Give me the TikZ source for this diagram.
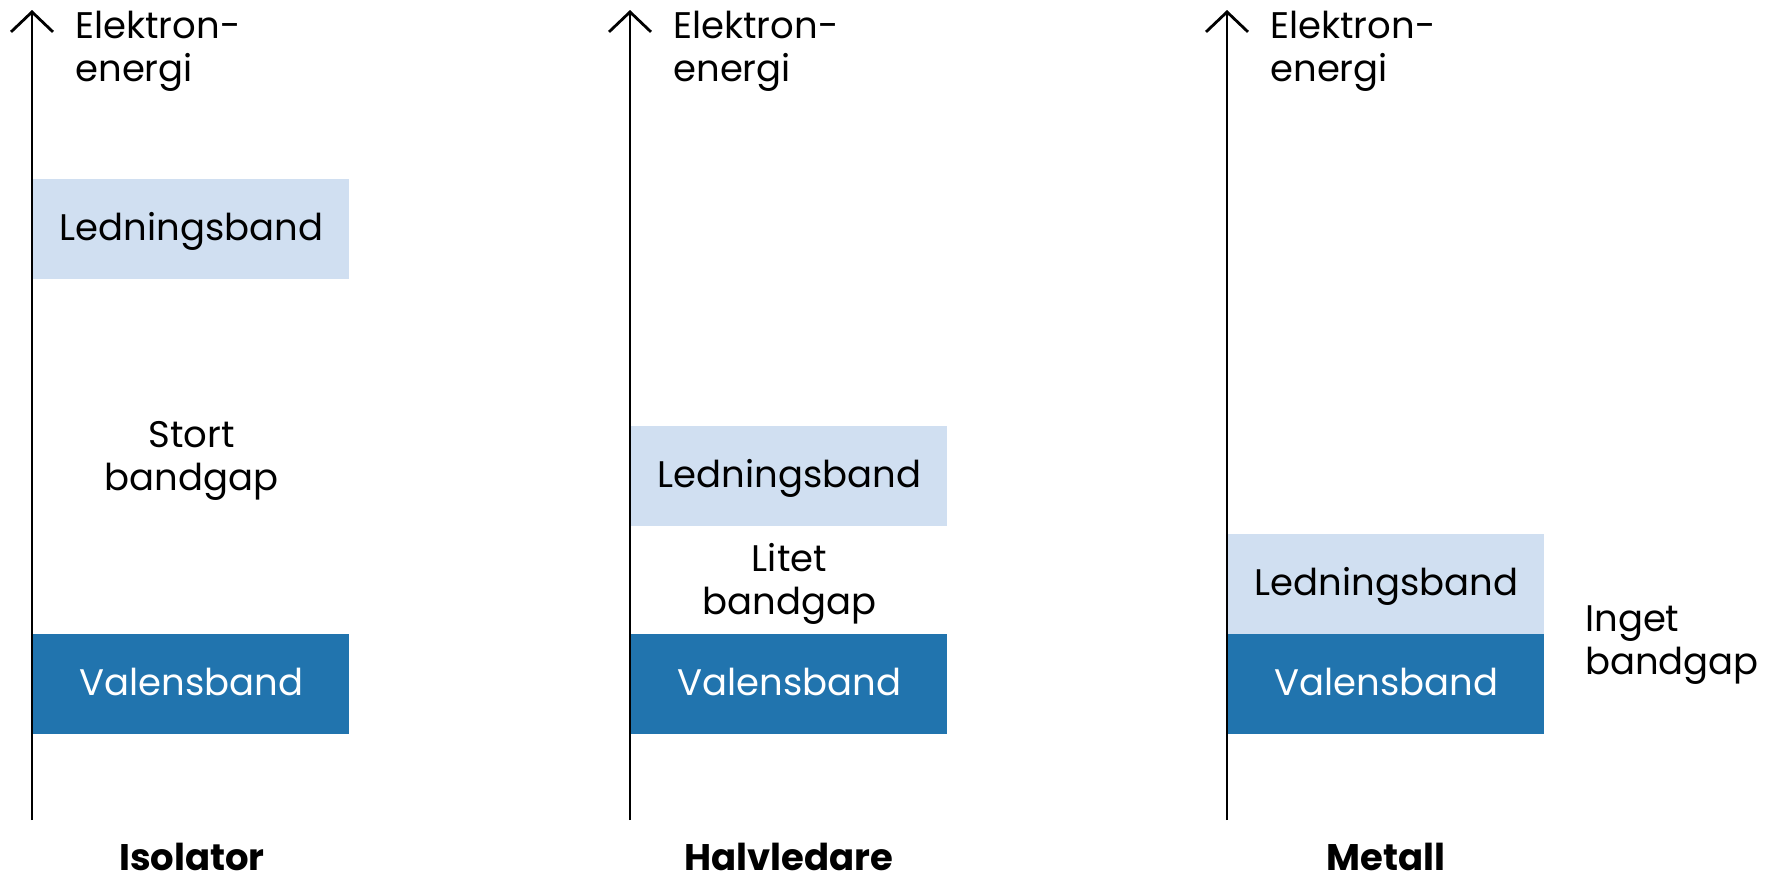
\documentclass[tikz,border=0pt]{standalone}
\usepackage{fontspec}
\setmainfont{Poppins}
\usetikzlibrary{arrows.meta,positioning,calc}
\definecolor{ledblue}{HTML}{D0DFF1}
\definecolor{valblue}{HTML}{2174AE}

\begin{document}
\begin{tikzpicture}[x=0.5pt, y=-0.5pt,
  axis/.style={-{Straight Barb[length=10pt, width=21pt]}, line width=1.4pt},
  band/.style={minimum width=158pt, minimum height=50pt, inner sep=0pt, anchor=north west, text height=15pt, text depth=4pt, font=\fontsize{18.5}{21.5}\selectfont},
  cband/.style={band, fill=ledblue, text=black},
  vband/.style={band, fill=valblue, text=white},
  lab/.style={font=\fontsize{18.5}{21.5}\selectfont, align=center, inner sep=0pt},
  ttl/.style={font=\fontsize{18.5}{21.5}\selectfont\bfseries, anchor=base, inner sep=0pt, text depth=0pt}
]
\useasboundingbox (0,0) rectangle (1777,879);
% bands
\node[cband] (isoled) at (33,179) {Ledningsband};
\node[vband] (isoval) at (33,634) {Valensband};
\node[cband] (hlled) at (631,426) {Ledningsband};
\node[vband] (hlval) at (631,634) {Valensband};
\node[cband] (metled) at (1228,534) {Ledningsband};
\node[vband] (metval) at (1228,634) {Valensband};
% energy axes
\coordinate (isobot) at (32,820);  \coordinate (isotop) at (32,10);
\coordinate (hlbot) at (630,820);  \coordinate (hltop) at (630,10);
\coordinate (metbot) at (1227,820); \coordinate (mettop) at (1227,10);
\draw[axis] (isobot) -- (isotop);
\draw[axis] (hlbot) -- (hltop);
\draw[axis] (metbot) -- (mettop);
\node[lab, align=left, anchor=north west] (isoE) at (75,11) {Elektron-\\energi};
\node[lab, align=left, anchor=north west] (hlE) at (673,11) {Elektron-\\energi};
\node[lab, align=left, anchor=north west] (metE) at (1270,11) {Elektron-\\energi};
% gaps
\node[lab, yshift=-2pt] (isogap) at ($(isoled.south)!0.5!(isoval.north)$) {Stort\\bandgap};
\node[lab, yshift=-2pt] (hlgap) at ($(hlled.south)!0.5!(hlval.north)$) {Litet\\bandgap};
\node[lab, align=left, right=20pt of metval.north east, yshift=-5.5pt] (metgap) {Inget\\bandgap};
% materials
\node[ttl] (iso) at (192,870) {Isolator};
\node[ttl] (hl) at (789,870) {Halvledare};
\node[ttl] (met) at (1386,870) {Metall};
\end{tikzpicture}
\end{document}
